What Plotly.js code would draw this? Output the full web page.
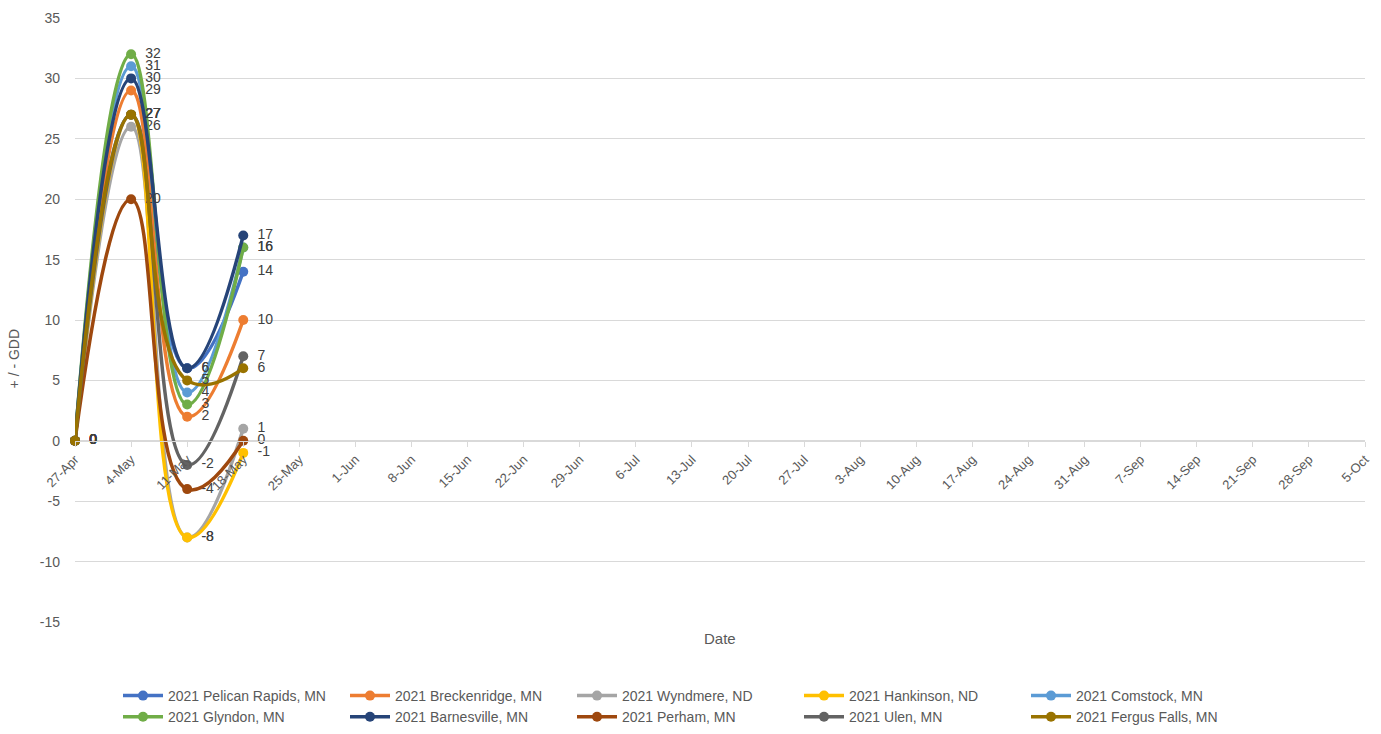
<!DOCTYPE html>
<html>
<head>
<meta charset="utf-8">
<script src="https://cdn.plot.ly/plotly-3.0.1.min.js"></script>
<style>html,body{margin:0;padding:0;background:#fff;}#chart{width:1381px;height:734px;}</style>
</head>
<body>
<div id="chart"></div>
<script>
const categories = ["27-Apr","4-May","11-May","18-May","25-May","1-Jun","8-Jun","15-Jun","22-Jun","29-Jun","6-Jul","13-Jul","20-Jul","27-Jul","3-Aug","10-Aug","17-Aug","24-Aug","31-Aug","7-Sep","14-Sep","21-Sep","28-Sep","5-Oct"];
const obsDates = ["27-Apr","4-May","11-May","18-May"];
const yTickValues = [-15, -10, -5, 0, 5, 10, 15, 20, 25, 30, 35];
const yTickLabels = ["-15", "-10", "-5", "0", "5", "10", "15", "20", "25", "30", "35"];

const seriesNames = ["2021 Pelican Rapids, MN","2021 Breckenridge, MN","2021 Wyndmere, ND","2021 Hankinson, ND","2021 Comstock, MN","2021 Glyndon, MN","2021 Barnesville, MN","2021 Perham, MN","2021 Ulen, MN","2021 Fergus Falls, MN"];
const pelicanRapids = [0, 27, 6, 14];
const breckenridge  = [0, 29, 2, 10];
const wyndmere      = [0, 26, -8, 1];
const hankinson     = [0, 27, -8, -1];
const comstock      = [0, 31, 4, 16];
const glyndon       = [0, 32, 3, 16];
const barnesville   = [0, 30, 6, 17];
const perham        = [0, 20, -4, 0];
const ulen          = [0, 27, -2, 7];
const fergusFalls   = [0, 27, 5, 6];
const seriesValues = [pelicanRapids, breckenridge, wyndmere, hankinson, comstock, glyndon, barnesville, perham, ulen, fergusFalls];
const seriesColors = ["#4472C4","#ED7D31","#A5A5A5","#FFC000","#5B9BD5","#70AD47","#264478","#9E480E","#636363","#997300"];

const FONT = "Liberation Sans, Arial, sans-serif";
const traces = seriesNames.map((name, i) => ({
  type: "scatter",
  mode: "lines+markers+text",
  name: name,
  x: obsDates,
  y: seriesValues[i],
  text: seriesValues[i].map(v => "\u2002" + String(v)),
  textposition: "middle right",
  textfont: {family: FONT, size: 14, color: "#404040"},
  line: {color: seriesColors[i], width: 3.5, shape: "spline", smoothing: 1.3},
  marker: {color: seriesColors[i], size: 10},
  cliponaxis: false
}));

const layout = {
  width: 1381, height: 734,
  margin: {l: 75, r: 16, t: 18, b: 112},
  paper_bgcolor: "#fff", plot_bgcolor: "#fff",
  font: {family: FONT, size: 13, color: "#595959"},
  showlegend: true,
  xaxis: {
    type: "category",
    categoryorder: "array",
    categoryarray: categories,
    range: [0, categories.length - 1],
    anchor: "free",
    position: 0.3,
    tickangle: -45,
    showgrid: false,
    showline: true,
    linecolor: "#d9d9d9",
    linewidth: 1,
    ticks: "outside",
    ticklen: 5,
    tickcolor: "#d9d9d9",
    tickfont: {family: FONT, size: 13, color: "#595959"},
    zeroline: false
  },
  yaxis: {
    range: [-15, 35],
    tickmode: "array",
    tickvals: yTickValues,
    ticktext: yTickLabels,
    showgrid: true,
    gridcolor: "#d9d9d9",
    gridwidth: 1,
    zeroline: true,
    zerolinecolor: "#d9d9d9",
    zerolinewidth: 1,
    showline: false,
    ticks: "",
    ticklabelstandoff: 14,
    tickfont: {family: FONT, size: 14, color: "#595959"}
  },
  legend: {
    orientation: "h",
    xref: "container", yref: "container",
    x: 118 / 1381, xanchor: "left",
    y: (734 - 680) / 734, yanchor: "top",
    entrywidth: 172,
    entrywidthmode: "pixels",
    tracegroupgap: 0,
    itemwidth: 40,
    font: {family: FONT, size: 14, color: "#595959"}
  },
  annotations: [
    {text: "Date", xref: "paper", yref: "paper", x: 0.5, y: -0.027, xanchor: "center", yanchor: "middle", showarrow: false, font: {family: FONT, size: 15, color: "#595959"}},
    {text: "+ / - GDD", xref: "paper", yref: "paper", x: -0.047, y: 0.437, xanchor: "center", yanchor: "middle", textangle: -90, showarrow: false, font: {family: FONT, size: 14, color: "#595959"}}
  ]
};

Plotly.newPlot("chart", traces, layout, {displayModeBar: false, staticPlot: true});
</script>
</body>
</html>
